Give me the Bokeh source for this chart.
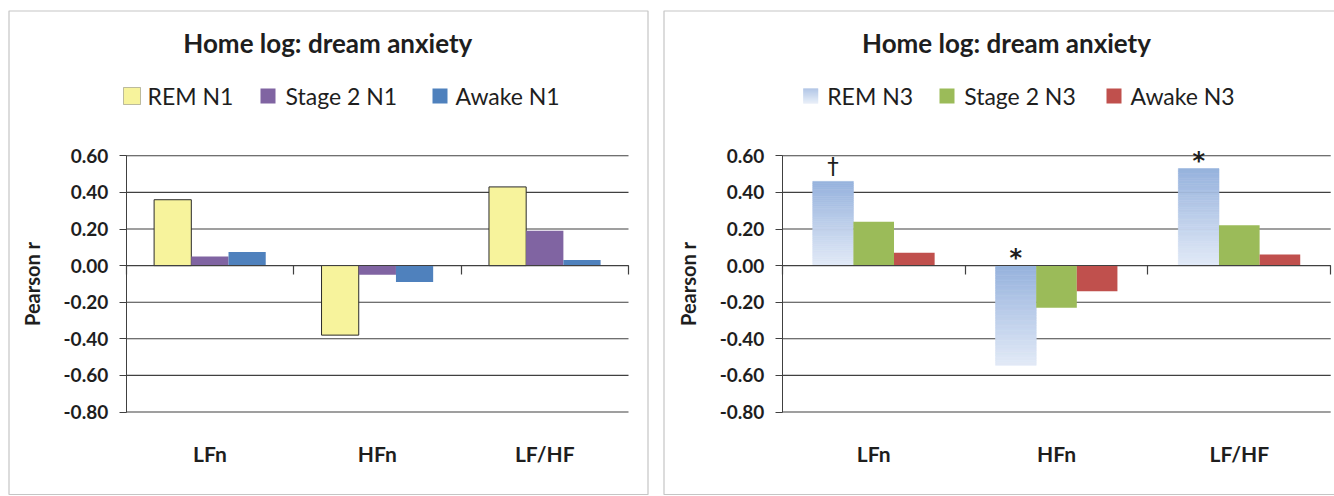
from bokeh.plotting import figure
from bokeh.models import (Range1d, FixedTicker, Label, BoxAnnotation, NumeralTickFormatter,
                          LinearAxis)
from bokeh.layouts import row
from bokeh.embed import file_html
from bokeh.resources import INLINE
from bokeh.core.properties import value

# ---------------- data ----------------
categories = ["LFn", "HFn", "LF/HF"]
y_ticks = [-0.8, -0.6, -0.4, -0.2, 0.0, 0.2, 0.4, 0.6]

left_title = "Home log: dream anxiety"
left_series = ["REM N1", "Stage 2 N1", "Awake N1"]
rem_n1 = [0.36, -0.38, 0.43]
stage2_n1 = [0.05, -0.05, 0.19]
awake_n1 = [0.075, -0.09, 0.03]

right_title = "Home log: dream anxiety"
right_series = ["REM N3", "Stage 2 N3", "Awake N3"]
rem_n3 = [0.46, -0.545, 0.53]
stage2_n3 = [0.24, -0.23, 0.22]
awake_n3 = [0.07, -0.14, 0.06]
rem_n3_marks = ["†", "*", "*"]

y_label = "Pearson r"

# ---------------- style / layout ----------------
FONT = "Lato"
MARK_FONT = "DejaVu Sans"
H = 495
DARK = "#404040"
TXT = "#1e1e1e"
BW = 1 / 4.5                 # bar width (gap width 150%)
Y_TOP_PX, Y_BOT_PX = 155.3, 411.5
Y_MIN, Y_MAX = min(y_ticks), max(y_ticks)
PPU_Y = (Y_BOT_PX - Y_TOP_PX) / (Y_MAX - Y_MIN)
NCAT = len(categories)
TITLE_Y = 42
LEGEND_Y = 95

GRAD_TOP = (150, 178, 221)
GRAD_BOT = (226, 234, 247)


def hexcol(c):
    return "#%02x%02x%02x" % tuple(int(round(v)) for v in c)


def grad(t):  # t=1 top (dark), t=0 bottom (light)
    return hexcol([GRAD_BOT[i] + (GRAD_TOP[i] - GRAD_BOT[i]) * t for i in range(3)])


def canvas_box(**kw):
    return BoxAnnotation(left_units="canvas", right_units="canvas",
                         top_units="canvas", bottom_units="canvas", **kw)


def make_fig(width, x0_px, x3_px, title, title_x, border_right):
    ppu_x = (x3_px - x0_px) / NCAT
    xr = Range1d(-x0_px / ppu_x, (width - x0_px) / ppu_x)
    yr = Range1d(Y_MIN - (H - Y_BOT_PX) / PPU_Y, Y_MAX + Y_TOP_PX / PPU_Y)
    p = figure(width=width, height=H, x_range=xr, y_range=yr,
               output_backend="svg", toolbar_location=None, title_location=None,
               x_axis_location=None, y_axis_location=None, min_border=0)
    p.outline_line_color = None
    p.background_fill_color = "white"
    p.border_fill_color = "white"
    p.grid.visible = False

    # horizontal gridlines spanning the categories
    p.segment(x0=[0] * len(y_ticks), x1=[NCAT] * len(y_ticks), y0=y_ticks, y1=y_ticks,
              line_color=DARK, line_width=1.1)

    # y axis at x = 0
    ya = LinearAxis(fixed_location=0, bounds=(Y_MIN, Y_MAX),
                    ticker=FixedTicker(ticks=y_ticks),
                    formatter=NumeralTickFormatter(format="0.00"))
    ya.major_label_text_font = FONT
    ya.major_label_text_font_style = "bold"
    ya.major_label_text_font_size = "19px"
    ya.major_label_text_color = TXT
    ya.major_label_standoff = 11
    ya.major_tick_out = 7
    ya.major_tick_in = 0
    ya.minor_tick_out = 0
    ya.minor_tick_in = 0
    ya.axis_line_color = DARK
    ya.major_tick_line_color = DARK
    ya.axis_label = y_label
    ya.axis_label_text_font = FONT
    ya.axis_label_text_font_style = "bold"
    ya.axis_label_text_font_size = "20px"
    ya.axis_label_text_color = TXT
    ya.axis_label_standoff = 17
    p.add_layout(ya, "left")

    # category labels below the plot
    centers = [i + 0.5 for i in range(NCAT)]
    xa = LinearAxis(fixed_location=Y_MIN, ticker=FixedTicker(ticks=centers))
    xa.major_label_overrides = {c: lab for c, lab in zip(centers, categories)}
    xa.axis_line_color = None
    xa.major_tick_line_color = None
    xa.minor_tick_line_color = None
    xa.major_label_standoff = 23
    xa.major_label_text_font = FONT
    xa.major_label_text_font_style = "bold"
    xa.major_label_text_font_size = "21px"
    xa.major_label_text_color = TXT
    p.add_layout(xa, "below")

    # zero axis with category-boundary ticks
    bounds = [float(i) for i in range(NCAT + 1)]
    za = LinearAxis(fixed_location=0, bounds=(0, NCAT), ticker=FixedTicker(ticks=bounds))
    za.major_label_overrides = {b: "" for b in bounds}
    za.axis_line_color = DARK
    za.axis_line_width = 1.2
    za.major_tick_line_color = DARK
    za.major_tick_line_width = 1.2
    za.major_tick_out = 9
    za.major_tick_in = 0
    za.minor_tick_line_color = None
    p.add_layout(za, "below")

    # panel border
    p.add_layout(canvas_box(left=8.5, right=border_right, top=10.5, bottom=494,
                            fill_alpha=0, line_color=DARK, line_width=1.2, level="overlay"))
    # title
    p.add_layout(Label(x=title_x, y=TITLE_Y, x_units="canvas", y_units="canvas",
                       text=title, text_font=FONT, text_font_style="bold",
                       text_font_size="26px", text_align="center",
                       text_baseline="alphabetic", text_color=TXT))
    return p


def legend(p, labels, boxes, text_xs, swatches):
    for lab, (bl, br), tx, sw in zip(labels, boxes, text_xs, swatches):
        if sw[0] == "solid":
            outline = sw[2]
            pad = 1 if outline else 0
            p.add_layout(canvas_box(left=bl, right=br, top=88 - pad, bottom=103 + pad,
                                    fill_color=sw[1], fill_alpha=1,
                                    line_color=outline, line_width=1, level="overlay"))
        else:
            n = 15
            for k in range(n):
                t = 1 - (k + 0.5) / n
                p.add_layout(canvas_box(left=bl, right=br, top=88 + k, bottom=89 + k,
                                        fill_color=grad(t), fill_alpha=1,
                                        line_color=None, level="overlay"))
        p.add_layout(Label(x=tx, y=LEGEND_Y, x_units="canvas", y_units="canvas", text=lab,
                           text_font=FONT, text_font_size="23px",
                           text_baseline="alphabetic", text_color=TXT))


def bar_x(j):
    return [i + 0.5 + (j - 1) * BW for i in range(NCAT)]


# ---------------- left chart (page x 0..655) ----------------
W1 = 655
p1 = make_fig(W1, 125.7, 628.0, left_title, 327.3, 647.5)
left_colors = ["#F7F39C", "#8064A2", "#4F81BD"]
left_lines = ["#2a2a2a", None, None]
for j, vals in enumerate([rem_n1, stage2_n1, awake_n1]):
    p1.vbar(x=bar_x(j), top=vals, bottom=0, width=BW, fill_color=left_colors[j],
            line_color=left_lines[j], line_width=1)
legend(p1, left_series, [(123, 140), (260, 275), (432, 447)], [147, 285, 455],
       [("solid", "#F7F39C", "#2a2a2a"), ("solid", "#8064A2", None),
        ("solid", "#4F81BD", None)])

# ---------------- right chart (page x 655..1334) ----------------
W2 = 679
OX = 655
p2 = make_fig(W2, 781.8 - OX, 1330.2 - OX, right_title, 1006 - OX, 720)
# gradient-filled REM N3 bars, drawn as horizontal bands of each bar
N = 40
qx0, qx1, qb, qt, qc = [], [], [], [], []
for xc, v in zip(bar_x(0), rem_n3):
    lo, hi = min(0.0, v), max(0.0, v)
    for k in range(N):
        qx0.append(xc - BW / 2)
        qx1.append(xc + BW / 2)
        qb.append(lo + (hi - lo) * k / N)
        qt.append(lo + (hi - lo) * (k + 1) / N)
        qc.append(grad((k + 0.5) / N))
p2.quad(left=qx0, right=qx1, bottom=qb, top=qt, fill_color=qc, line_color=qc,
        line_width=0.6)
for j, (vals, col) in enumerate([(stage2_n3, "#9BBB59"), (awake_n3, "#C0504D")], start=1):
    p2.vbar(x=bar_x(j), top=vals, bottom=0, width=BW, fill_color=col, line_color=None)

mark_offset = {"†": -15, "*": -8}
mark_size = {"†": "23px", "*": "24px"}
mark_style = {"†": "normal", "*": "bold"}
p2.text(x=bar_x(0), y=[max(v, 0.0) for v in rem_n3], text=rem_n3_marks,
        y_offset=[mark_offset[m] for m in rem_n3_marks],
        text_font_size=[mark_size[m] for m in rem_n3_marks],
        text_font_style=[mark_style[m] for m in rem_n3_marks],
        text_font=value(MARK_FONT),
        text_align="center", text_baseline="alphabetic", text_color=TXT)
legend(p2, right_series,
       [(802.7 - OX, 817.7 - OX), (939 - OX, 954 - OX), (1106 - OX, 1121 - OX)],
       [826.7 - OX, 963.7 - OX, 1130 - OX],
       [("grad",), ("solid", "#9BBB59", None), ("solid", "#C0504D", None)])

layout = row(p1, p2)
open("out.html", "w").write(file_html(layout, INLINE))
